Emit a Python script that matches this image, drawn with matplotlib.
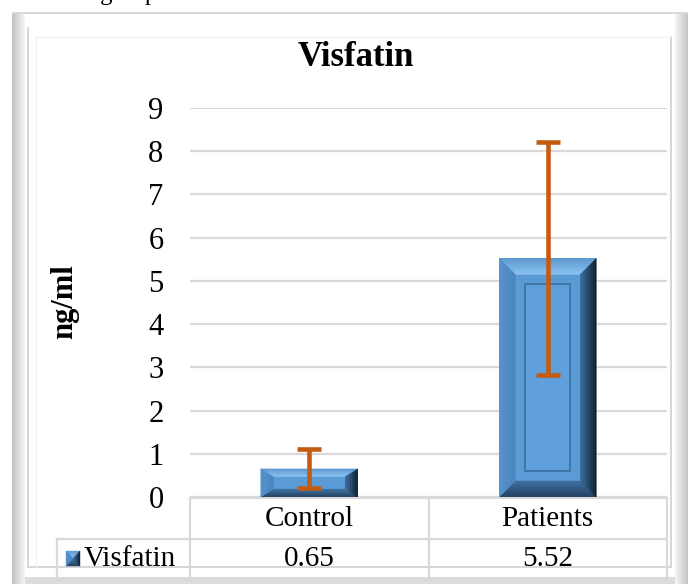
import matplotlib
matplotlib.use("Agg")

import matplotlib.pyplot as plt
import matplotlib.colors as mcolors
from matplotlib.patches import Polygon, Rectangle
from matplotlib.lines import Line2D
import numpy as np

# --- data ---
categories = ["Control", "Patients"]
series_name = "Visfatin"
means = [0.65, 5.52]
errors = [0.45, 2.70]
y_ticks = list(range(0, 10))
title = "Visfatin"
y_label = "ng/ml"
value_labels = ["0.65", "5.52"]

W, H = 688, 584
plt.rcParams["font.family"] = ["Liberation Serif", "DejaVu Serif"]

FACE = "#5B9BD5"
SIDES = {
    "top": ("#5C98D0", "#8CC3F1"),
    "left": ("#5993CC", "#4A84BD"),
    "right": ("#0C1926", "#3C6D9D"),
    "bottom": ("#22405F", "#3F70A0"),
}
GRID = "#D9D9D9"


def py(y_top):
    # pixel row measured from the top -> bg axes y
    return H - y_top


def mix(c0, c1, t):
    a = np.array(mcolors.to_rgb(c0))
    b = np.array(mcolors.to_rgb(c1))
    return tuple(a + (b - a) * t)


def bevel_box(axis, x0, x1, y0, y1, dx, dy, steps=8, z=3):
    axis.add_patch(Rectangle((x0, y0), x1 - x0, y1 - y0, fc=FACE, ec="none", zorder=z))
    for k in range(steps):
        f0, f1 = k / steps, (k + 1) / steps
        a = (x0 + dx * f0, y0 + dy * f0, x1 - dx * f0, y1 - dy * f0)
        b = (x0 + dx * f1, y0 + dy * f1, x1 - dx * f1, y1 - dy * f1)
        t = (k + 0.5) / steps
        quads = {
            "top": [(a[0], a[3]), (a[2], a[3]), (b[2], b[3]), (b[0], b[3])],
            "bottom": [(a[0], a[1]), (a[2], a[1]), (b[2], b[1]), (b[0], b[1])],
            "left": [(a[0], a[1]), (a[0], a[3]), (b[0], b[3]), (b[0], b[1])],
            "right": [(a[2], a[1]), (a[2], a[3]), (b[2], b[3]), (b[2], b[1])],
        }
        for side, pts in quads.items():
            c = mix(*SIDES[side], t)
            axis.add_patch(Polygon(pts, closed=True, fc=c, ec=c, lw=0.3, zorder=z))


fig = plt.figure(figsize=(W / 100, H / 100), dpi=100)

# background axes in pixel units (y up) for frame and data table
bg = fig.add_axes([0, 0, 1, 1], zorder=0)
bg.set_xlim(0, W)
bg.set_ylim(0, H)
bg.axis("off")

# outer bevelled frame
bg.add_patch(Rectangle((12, 0), W - 12, py(12), fc="#D8D8D8", ec="none"))
bg.add_patch(Rectangle((25, py(577)), 650, 577 - 14, fc="white", ec="none"))
for i, xx in enumerate(range(12, 25)):
    c = mix("#C2C2C2", "#F4F4F4", i / 12)
    bg.add_patch(Rectangle((xx, 0), 1, py(14), fc=c, ec="none"))
for i, xx in enumerate(range(675, W)):
    c = mix("#F4F4F4", "#C6C6C6", i / 12)
    bg.add_patch(Rectangle((xx, 0), 1, py(14), fc=c, ec="none"))
bg.add_patch(Rectangle((25, 0), 650, 7, fc="#DCDCDC", ec="none"))
bg.add_line(Line2D([28, 28], [py(28), py(567)], color="#D0D0D0", lw=1.2))
bg.add_line(Line2D([28, 671], [py(567), py(567)], color="#D0D0D0", lw=1.2))
bg.add_line(Line2D([671, 671], [py(37), py(567)], color="#D0D0D0", lw=1.2))
bg.add_line(Line2D([36, 671], [py(37), py(37)], color="#F0F0F0", lw=1.0))
bg.add_line(Line2D([36, 36], [py(37), py(567)], color="#F0F0F0", lw=1.0))

# main plot axes
ax = fig.add_axes([190 / W, 87 / H, 477 / W, 389 / H], zorder=2)
ax.patch.set_alpha(0)
x = np.arange(len(categories))
ax.set_xlim(-0.5, len(categories) - 0.5)
ax.set_ylim(y_ticks[0], y_ticks[-1])
ax.set_yticks(y_ticks)
ax.set_xticks([])
ax.tick_params(axis="y", length=0, pad=19, labelsize=22)
ax.yaxis.grid(True, color=GRID, lw=1.6)
ax.set_axisbelow(True)
for s in ax.spines.values():
    s.set_visible(False)

bars = ax.bar(x, means, width=0.407, color=FACE, zorder=2)

p0 = ax.transData.transform((0, 0))
p1 = ax.transData.transform((1, 1))
px_x, px_y = p1[0] - p0[0], p1[1] - p0[1]

for bar in bars:
    bx0, bw, bh = bar.get_x(), bar.get_width(), bar.get_height()
    h_px = bh * px_y
    by_px = min(16, 0.28 * h_px)
    bx_px = min(16, 0.45 * h_px)
    dx, dy = bx_px / px_x, by_px / px_y
    bevel_box(ax, bx0, bx0 + bw, 0, bh, dx, dy)
    if h_px > 100:
        gx, gy = 10 / px_x, 10 / px_y
        ax.add_patch(Rectangle((bx0 + dx + gx, dy + gy), bw - 2 * (dx + gx), bh - 2 * (dy + gy),
                               fc="#5FA0DC", ec="#3D72A5", lw=1.3, zorder=4))

ax.errorbar(x, means, yerr=errors, fmt="none", ecolor="#C55A11",
            elinewidth=3.3, capsize=8.6, capthick=3.3, zorder=6)

# title and y label
fig.text(355.5 / W, py(57) / H, title, fontsize=25, fontweight="bold",
         ha="center", va="center")
fig.text(65 / W, py(302) / H, y_label, fontsize=22, fontweight="bold",
         rotation=90, ha="center", va="center")

# stray document text cut at the top edge
fig.text(100 / W, 1.0, "group", fontsize=18, ha="left", va="baseline")

# data table under the plot
edges = [ax.transData.transform((e, 0))[0] for e in np.arange(len(categories) + 1) - 0.5]
left_px = 57
row_top, row_mid, row_bot = 498, 539, 579
tl = dict(color=GRID, lw=1.6)
bg.add_line(Line2D([edges[0], edges[-1]], [py(row_top)] * 2, **tl))
bg.add_line(Line2D([left_px, edges[-1]], [py(row_mid)] * 2, **tl))
bg.add_line(Line2D([left_px, edges[-1]], [py(row_bot)] * 2, **tl))
bg.add_line(Line2D([left_px, left_px], [py(row_mid), py(row_bot)], **tl))
for e in edges:
    bg.add_line(Line2D([e, e], [py(row_top), py(row_bot)], **tl))

for i, cat in enumerate(categories):
    cx = (edges[i] + edges[i + 1]) / 2
    bg.text(cx, py((row_top + row_mid) / 2), cat, fontsize=21, ha="center", va="center")
    bg.text(cx, py((row_mid + row_bot) / 2), value_labels[i], fontsize=21,
            ha="center", va="center")

# legend key and row label
bevel_box(bg, 66, 80, py(566), py(551), 7, 7.5, steps=4, z=3)
bg.text(84, py((row_mid + row_bot) / 2), series_name, fontsize=21, ha="left", va="center")

fig.savefig("out.png", dpi=100)
